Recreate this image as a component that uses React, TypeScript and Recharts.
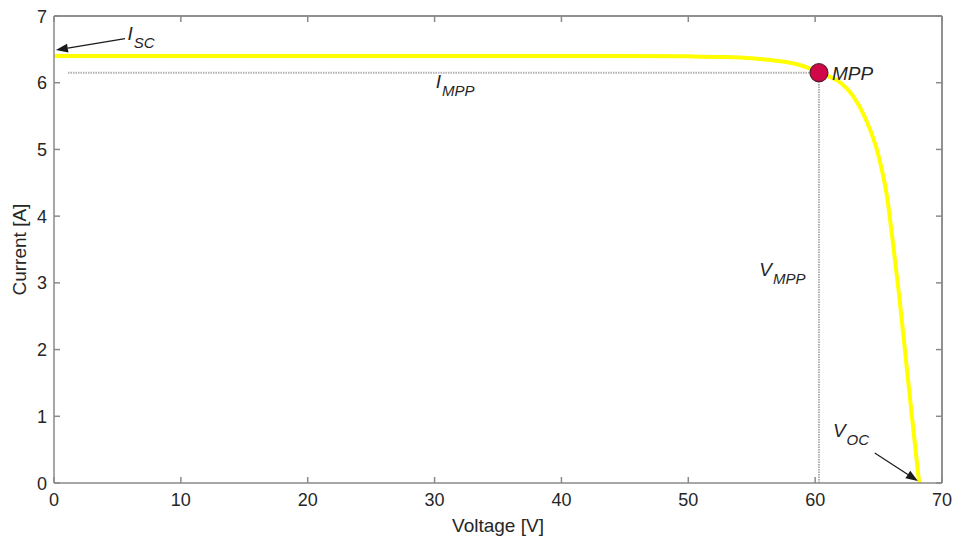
import React from "react";
import {
  LineChart,
  Line,
  XAxis,
  YAxis,
  ReferenceLine,
  ReferenceDot,
} from "recharts";

// I-V curve of a PV module
const VOLTAGE = [0, 10, 20, 30, 40, 45, 50, 53, 55, 57, 58.5, 59.5, 60.3, 61, 62, 63, 64, 65, 65.7, 66.1, 66.6, 67.1, 67.6, 68.2];
const CURRENT = [6.4, 6.4, 6.4, 6.4, 6.4, 6.4, 6.395, 6.385, 6.365, 6.33, 6.28, 6.22, 6.15, 6.1, 6.0, 5.8, 5.45, 4.9, 4.25, 3.65, 2.85, 1.95, 1.05, 0];

const X_TICKS = [0, 10, 20, 30, 40, 50, 60, 70];
const Y_TICKS = [0, 1, 2, 3, 4, 5, 6, 7];

const MPP = { v: 60.3, i: 6.15 };
const ISC_LABEL = { v: 5.8, i: 6.64 };
const ISC_ARROW = [{ v: 5.6, i: 6.66 }, { v: 0.15, i: 6.49 }];
const VOC_LABEL = { v: 61.4, i: 0.69 };
const VOC_ARROW = [{ v: 64.7, i: 0.45 }, { v: 68.1, i: 0.03 }];
const IMPP_LABEL = { v: 30.1, i: 5.92 };
const VMPP_LABEL = { v: 55.6, i: 3.1 };
const H_GUIDE_START = 1.1;

const data = VOLTAGE.map((v, idx) => ({ v, i: CURRENT[idx] }));

const FONT = "'Liberation Sans', Arial, Helvetica, sans-serif";
const TEXT = "#262626";
const FRAME = "#8a8a8a";
const TICK_LEN = 6;

const BottomTick = (props: any) => {
  const { x, y, payload } = props;
  return (
    <g>
      <line x1={x} y1={y} x2={x} y2={y - TICK_LEN} stroke={FRAME} strokeWidth={1.5} />
      <text x={x} y={y + 23} textAnchor="middle" fontSize={18} fill={TEXT} fontFamily={FONT}>
        {payload.value}
      </text>
    </g>
  );
};

const LeftTick = (props: any) => {
  const { x, y, payload } = props;
  return (
    <g>
      <line x1={x} y1={y} x2={x + TICK_LEN} y2={y} stroke={FRAME} strokeWidth={1.5} />
      <text x={x - 7} y={y + 6.5} textAnchor="end" fontSize={18} fill={TEXT} fontFamily={FONT}>
        {payload.value}
      </text>
    </g>
  );
};

const TopTick = (props: any) => {
  const { x, y } = props;
  return <line x1={x} y1={y} x2={x} y2={y + TICK_LEN} stroke={FRAME} strokeWidth={1.5} />;
};

const RightTick = (props: any) => {
  const { x, y } = props;
  return <line x1={x} y1={y} x2={x - TICK_LEN} y2={y} stroke={FRAME} strokeWidth={1.5} />;
};

const subLabel = (main: string, sub: string) => (props: any) => (
  <text x={props.cx} y={props.cy} fontSize={19} fill={TEXT} fontFamily={FONT} fontStyle="italic">
    <tspan>{main}</tspan>
    <tspan dx={1} dy={8} fontSize={15}>{sub}</tspan>
  </text>
);

const Arrow = (props: any) => {
  const { x1, y1, x2, y2 } = props;
  const ang = Math.atan2(y2 - y1, x2 - x1);
  const len = 12;
  const w = 4.5;
  const bx = x2 - len * Math.cos(ang);
  const by = y2 - len * Math.sin(ang);
  const px = -Math.sin(ang) * w;
  const py = Math.cos(ang) * w;
  return (
    <g>
      <line x1={x1} y1={y1} x2={bx} y2={by} stroke="#1a1a1a" strokeWidth={1.2} />
      <polygon points={`${x2},${y2} ${bx + px},${by + py} ${bx - px},${by - py}`} fill="#1a1a1a" />
    </g>
  );
};

export default function App() {
  return (
    <div style={{ position: "absolute", left: 0, top: 0, width: 955, height: 536, background: "#fff" }}>
      <LineChart
        width={955}
        height={536}
        data={data}
        margin={{ top: 15, right: 12, bottom: 23, left: 14 }}
      >
        <XAxis
          dataKey="v"
          type="number"
          domain={[0, 70]}
          ticks={X_TICKS}
          interval={0}
          height={30}
          tickSize={0}
          tickMargin={0}
          stroke={FRAME}
          strokeWidth={1.5}
          tick={<BottomTick />}
          label={{ value: "Voltage [V]", position: "insideBottom", offset: -19, fontSize: 19, fill: TEXT, fontFamily: FONT }}
        />
        <XAxis
          xAxisId="top"
          dataKey="v"
          orientation="top"
          type="number"
          domain={[0, 70]}
          ticks={X_TICKS}
          interval={0}
          height={1}
          tickSize={0}
          tickMargin={0}
          stroke={FRAME}
          strokeWidth={1.5}
          tick={<TopTick />}
        />
        <YAxis
          type="number"
          domain={[0, 7]}
          ticks={Y_TICKS}
          interval={0}
          width={40}
          tickSize={0}
          tickMargin={0}
          stroke={FRAME}
          strokeWidth={1.5}
          tick={<LeftTick />}
          label={{ value: "Current [A]", angle: -90, position: "insideLeft", offset: 5, dy: 46, fontSize: 19, fill: TEXT, fontFamily: FONT }}
        />
        <YAxis
          yAxisId="right"
          orientation="right"
          type="number"
          domain={[0, 7]}
          ticks={Y_TICKS}
          interval={0}
          width={1}
          tickSize={0}
          tickMargin={0}
          stroke={FRAME}
          strokeWidth={1.5}
          tick={<RightTick />}
        />
        {/* frame edges on the top and right */}
        <ReferenceLine y={7} stroke={FRAME} strokeWidth={1.5} />
        <ReferenceLine x={70} stroke={FRAME} strokeWidth={1.5} />
        <ReferenceLine
          segment={[{ x: H_GUIDE_START, y: MPP.i }, { x: MPP.v, y: MPP.i }]}
          stroke="#b0b0b0"
          strokeWidth={2}
          strokeDasharray="1.5 1"
        />
        <ReferenceLine
          segment={[{ x: MPP.v, y: 0 }, { x: MPP.v, y: MPP.i }]}
          stroke="#b0b0b0"
          strokeWidth={2}
          strokeDasharray="1.5 1"
        />
        {/* invisible copy so the top/right frame axes get drawn */}
        <Line
          dataKey="i"
          xAxisId="top"
          yAxisId="right"
          stroke="none"
          dot={false}
          activeDot={false}
          isAnimationActive={false}
        />
        <Line
          dataKey="i"
          type="monotone"
          stroke="#ffff00"
          strokeWidth={4}
          dot={false}
          isAnimationActive={false}
        />
        <ReferenceDot x={MPP.v} y={MPP.i} r={9} fill="#d0084a" stroke="#5a1a2a" strokeWidth={1.2} />
        <ReferenceDot
          x={MPP.v}
          y={MPP.i}
          r={0}
          shape={(p: any) => (
            <text x={p.cx + 13} y={p.cy + 7} fontSize={19} fill={TEXT} fontFamily={FONT} fontStyle="italic">
              MPP
            </text>
          )}
        />
        <ReferenceLine segment={[{ x: ISC_ARROW[0].v, y: ISC_ARROW[0].i }, { x: ISC_ARROW[1].v, y: ISC_ARROW[1].i }]} shape={<Arrow />} />
        <ReferenceLine segment={[{ x: VOC_ARROW[0].v, y: VOC_ARROW[0].i }, { x: VOC_ARROW[1].v, y: VOC_ARROW[1].i }]} shape={<Arrow />} />
        <ReferenceDot x={ISC_LABEL.v} y={ISC_LABEL.i} r={0} shape={subLabel("I", "SC")} />
        <ReferenceDot x={IMPP_LABEL.v} y={IMPP_LABEL.i} r={0} shape={subLabel("I", "MPP")} />
        <ReferenceDot x={VMPP_LABEL.v} y={VMPP_LABEL.i} r={0} shape={subLabel("V", "MPP")} />
        <ReferenceDot x={VOC_LABEL.v} y={VOC_LABEL.i} r={0} shape={subLabel("V", "OC")} />
      </LineChart>
    </div>
  );
}
